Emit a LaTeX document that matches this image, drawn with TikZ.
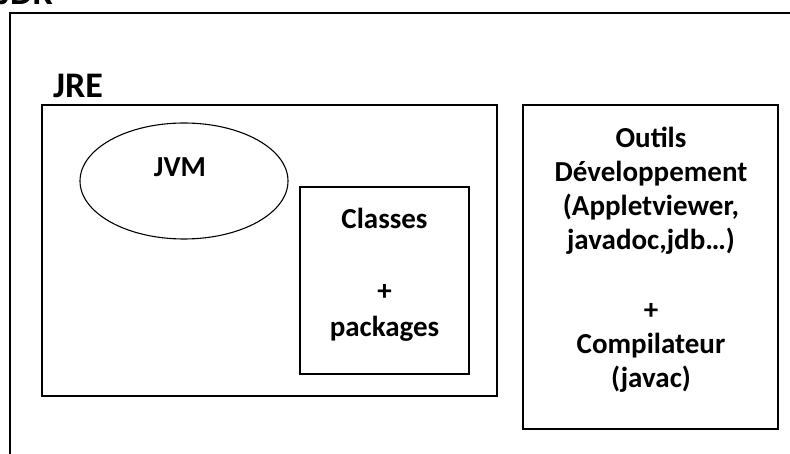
\documentclass[tikz,border=0pt]{standalone}
\usepackage{fontspec}
\setmainfont{Carlito}
\usetikzlibrary{shapes.geometric}

\tikzset{
  box/.style={draw=black, line width=1.6pt, inner sep=0pt},
  lbl/.style={font=\bfseries\fontsize{29}{34}\selectfont, align=center, inner sep=0pt},
  title/.style={font=\bfseries\fontsize{36}{42}\selectfont, inner sep=0pt, anchor=base west},
}

\begin{document}
\begin{tikzpicture}[x=1pt, y=-1pt]
  \useasboundingbox (0,0) rectangle (790,454);
  \clip (0,0) rectangle (790,454);

  % JDK: outer frame, running past the right and bottom edges
  \draw[line width=1.6pt] (10,13) rectangle (820,480);
  \node[title] (jdk) at (-2,5) {JDK};

  % JRE frame and its title
  \node[title] (jre) at (53,98) {JRE};
  \draw[box] (42,105) rectangle (497,396);

  % JVM
  \node[draw=black, line width=1.1pt, ellipse, minimum width=208pt,
        minimum height=116pt, inner sep=0pt] (jvm) at (184,181) {};
  \node[lbl] (jvmtxt) at (180,167) {JVM};

  % Classes + packages
  \draw[box] (300,187) rectangle (469,374);
  \node[lbl, font=\bfseries\fontsize{29}{36}\selectfont] (classes) at (384.5,275)
    {Classes\\[0pt] \\+\\packages};

  % Development tools
  \draw[box] (523,105) rectangle (778,429);
  \node[lbl] (outils) at (651,260)
    {Outils\\D\'eveloppement\\(Appletviewer,\\javadoc,jdb\dots)\\[2pt] \\+\\Compilateur\\(javac)};
\end{tikzpicture}
\end{document}
